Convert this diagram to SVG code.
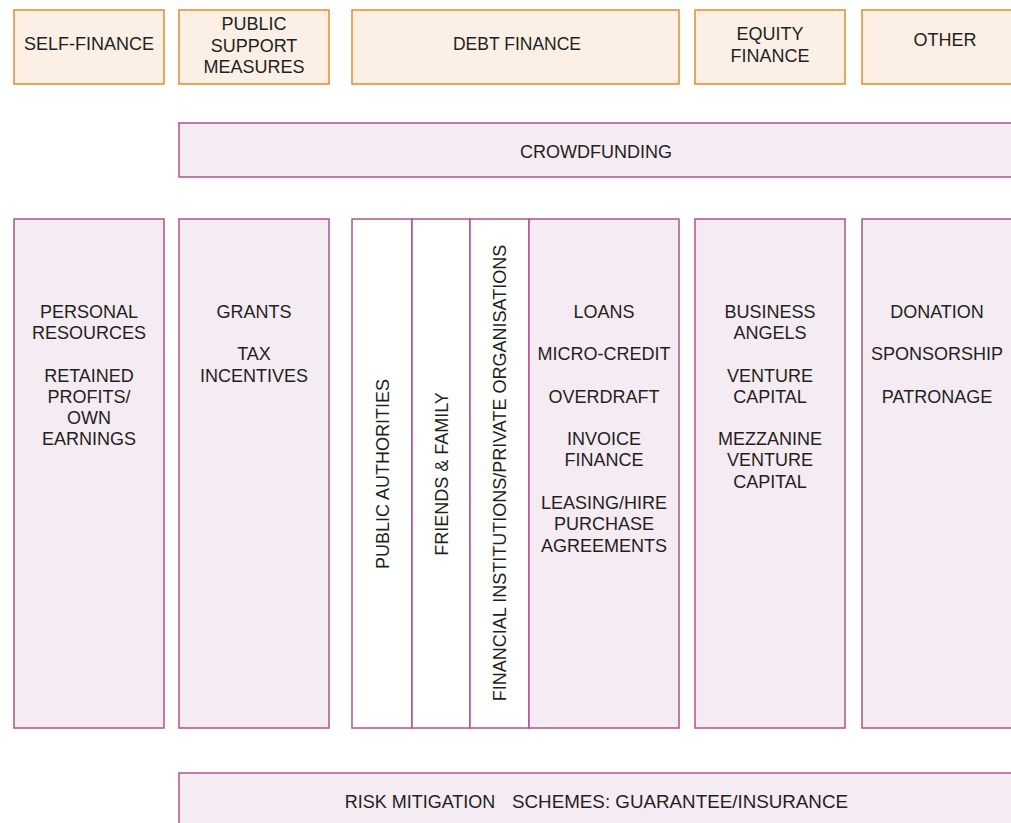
<svg xmlns="http://www.w3.org/2000/svg" width="1011" height="823" viewBox="0 0 1011 823">
<style>
.hdr{fill:#fcf0e6;stroke:#e8892f;stroke-width:1.5}
.box{fill:#f5ebf2;stroke:#b3528d;stroke-width:1.5}
.wbox{fill:#ffffff;stroke:#b3528d;stroke-width:1.5}
text{font-family:"Liberation Sans",Arial,sans-serif;fill:#231f20;text-anchor:middle}
.h{font-size:18px}
.c{font-size:18px}
.v{font-size:18px}
</style>
<rect width="1011" height="823" fill="#ffffff"/>
<g id="self-finance"><rect class="hdr" x="14" y="10" width="150" height="74"/><text class="h" x="89" y="50">SELF-FINANCE</text></g>
<g id="public-support"><rect class="hdr" x="179" y="10" width="150" height="74"/><text class="h" x="254" y="30">PUBLIC</text><text class="h" x="254" y="52">SUPPORT</text><text class="h" x="254" y="73">MEASURES</text></g>
<g id="debt-finance"><rect class="hdr" x="352" y="10" width="327" height="74"/><text class="h" x="517" y="50" style="font-size:17.5px">DEBT FINANCE</text></g>
<g id="equity-finance"><rect class="hdr" x="695" y="10" width="150" height="74"/><text class="h" x="770" y="40">EQUITY</text><text class="h" x="770" y="62">FINANCE</text></g>
<g id="other"><rect class="hdr" x="862" y="10" width="160" height="74"/><text class="h" x="945" y="46">OTHER</text></g>
<g id="crowdfunding"><rect class="box" x="179" y="123" width="845" height="54"/><text class="h" x="596" y="158">CROWDFUNDING</text></g>
<g id="col-self"><rect class="box" x="14" y="219" width="150" height="509"/>
<text class="c" x="89" y="318">PERSONAL</text><text class="c" x="89" y="339">RESOURCES</text><text class="c" x="89" y="382">RETAINED</text><text class="c" x="89" y="403">PROFITS/</text><text class="c" x="89" y="424">OWN</text><text class="c" x="89" y="445">EARNINGS</text></g>
<g id="col-public"><rect class="box" x="179" y="219" width="150" height="509"/>
<text class="c" x="254" y="318">GRANTS</text><text class="c" x="254" y="360">TAX</text><text class="c" x="254" y="382">INCENTIVES</text></g>
<g id="public-authorities"><rect class="wbox" x="352" y="219" width="60" height="509"/><text class="v" transform="translate(383,474) rotate(-90)" y="6">PUBLIC AUTHORITIES</text></g>
<g id="friends-family"><rect class="wbox" x="412" y="219" width="58" height="509"/><text class="v" transform="translate(442,474) rotate(-90)" y="6">FRIENDS &amp; FAMILY</text></g>
<g id="financial-institutions"><rect class="wbox" x="470" y="219" width="59" height="509"/><text class="v" transform="translate(500,473) rotate(-90)" y="6">FINANCIAL INSTITUTIONS/PRIVATE ORGANISATIONS</text></g>
<g id="col-debt"><rect class="box" x="529" y="219" width="150" height="509"/>
<text class="c" x="604" y="318">LOANS</text><text class="c" x="604" y="360">MICRO-CREDIT</text><text class="c" x="604" y="403">OVERDRAFT</text><text class="c" x="604" y="445">INVOICE</text><text class="c" x="604" y="466">FINANCE</text><text class="c" x="604" y="509">LEASING/HIRE</text><text class="c" x="604" y="530">PURCHASE</text><text class="c" x="604" y="552">AGREEMENTS</text></g>
<g id="col-equity"><rect class="box" x="695" y="219" width="150" height="509"/>
<text class="c" x="770" y="318">BUSINESS</text><text class="c" x="770" y="339">ANGELS</text><text class="c" x="770" y="382">VENTURE</text><text class="c" x="770" y="403">CAPITAL</text><text class="c" x="770" y="445">MEZZANINE</text><text class="c" x="770" y="466">VENTURE</text><text class="c" x="770" y="488">CAPITAL</text></g>
<g id="col-other"><rect class="box" x="862" y="219" width="160" height="509"/>
<text class="c" x="937" y="318">DONATION</text><text class="c" x="937" y="360">SPONSORSHIP</text><text class="c" x="937" y="403">PATRONAGE</text></g>
<g id="risk-mitigation"><rect class="box" x="179" y="773" width="845" height="60"/><text class="h" y="808"><tspan x="420">RISK MITIGATION</tspan><tspan x="512" style="text-anchor:start;font-size:18.8px">SCHEMES: GUARANTEE/INSURANCE</tspan></text></g>
<g id="connectors"></g>
</svg>
